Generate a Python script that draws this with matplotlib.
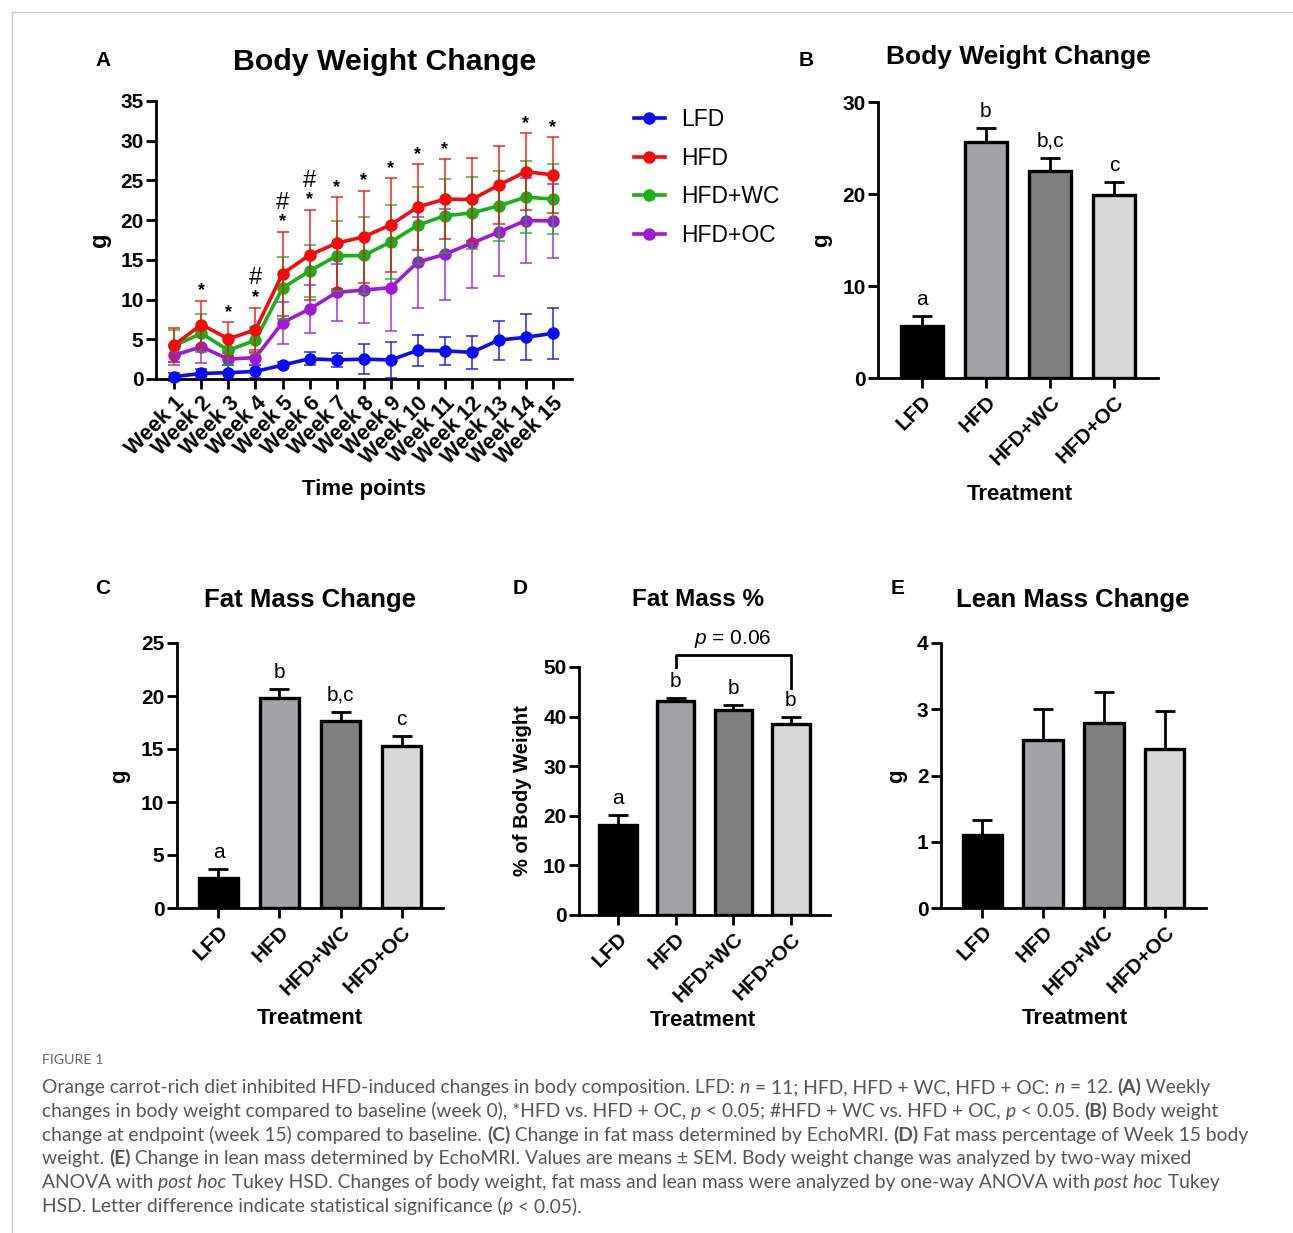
"""Figure 1: body weight / body composition panels (A-E) with caption."""

import matplotlib.pyplot as plt
from matplotlib.lines import Line2D
import numpy as np

W, H = 1293, 1233

# ---- panel A: weekly body weight change (g), mean and error per group
week_labels = ["Week 1", "Week 2", "Week 3", "Week 4", "Week 5", "Week 6", "Week 7", "Week 8",
               "Week 9", "Week 10", "Week 11", "Week 12", "Week 13", "Week 14", "Week 15"]
week_x = np.arange(1, 16)

lfd_mean = [0.3, 0.7, 0.8, 0.95, 1.75, 2.55, 2.4, 2.5, 2.4, 3.6, 3.55, 3.35, 4.9, 5.25, 5.75]
lfd_err = [0.5, 0.5, 0.9, 0.8, 0.4, 0.8, 0.9, 1.85, 2.3, 2.0, 1.8, 2.05, 2.45, 2.9, 3.2]
hfd_mean = [4.3, 6.85, 5.05, 6.2, 13.25, 15.6, 17.1, 17.9, 19.4, 21.65, 22.65, 22.6, 24.4, 26.1, 25.7]
hfd_err = [2.1, 3.0, 2.1, 2.8, 5.3, 5.7, 5.8, 5.8, 5.9, 5.4, 5.0, 5.2, 4.9, 4.85, 4.75]
wc_mean = [4.2, 5.75, 3.6, 4.9, 11.45, 13.6, 15.5, 15.55, 17.25, 19.35, 20.55, 20.9, 21.8, 22.9, 22.65]
wc_err = [2.0, 2.4, 1.8, 1.6, 3.85, 3.3, 4.4, 4.8, 4.7, 4.85, 4.65, 4.5, 4.45, 4.5, 4.4]
oc_mean = [3.0, 4.05, 2.5, 2.7, 7.1, 8.8, 10.9, 11.2, 11.5, 14.7, 15.7, 17.1, 18.5, 19.95, 19.9]
oc_err = [1.3, 2.0, 0.8, 1.0, 2.65, 3.0, 3.6, 4.2, 5.5, 5.75, 5.75, 5.7, 5.5, 5.35, 4.7]

star_weeks = [2, 3, 4, 5, 6, 7, 8, 9, 10, 11, 14, 15]
hash_weeks = [4, 5, 6]

# ---- panels B-E: endpoint bars
groups = ["LFD", "HFD", "HFD+WC", "HFD+OC"]
group_colors = ["#000000", "#a2a2a7", "#7f7f7f", "#d8d8d8"]
line_colors = {"LFD": "#0b0bf5", "HFD": "#f50b0b", "HFD+WC": "#17b017", "HFD+OC": "#a019d8"}

bw_mean = [5.7, 25.7, 22.5, 19.9]
bw_err = [1.05, 1.5, 1.45, 1.4]
bw_letters = ["a", "b", "b,c", "c"]

fat_mean = [2.85, 19.8, 17.6, 15.3]
fat_err = [0.8, 0.85, 0.9, 0.95]
fat_letters = ["a", "b", "b,c", "c"]

fatpct_mean = [18.2, 43.1, 41.3, 38.6]
fatpct_err = [1.9, 0.7, 1.1, 1.3]
fatpct_letters = ["a", "b", "b", "b"]

lean_mean = [1.1, 2.54, 2.8, 2.4]
lean_err = [0.23, 0.47, 0.46, 0.58]


def setup_style():
    plt.rcParams.update({
        "font.family": ["Liberation Sans", "DejaVu Sans"],
        "mathtext.fontset": "custom",
        "mathtext.rm": "Liberation Sans",
        "mathtext.it": "Liberation Sans:italic",
        "mathtext.bf": "Liberation Sans:bold",
        "axes.linewidth": 2.0,
        "xtick.major.width": 2.0,
        "ytick.major.width": 2.0,
        "xtick.major.size": 7,
        "ytick.major.size": 7,
        "xtick.major.pad": 3,
        "ytick.major.pad": 2,
    })


def box(left, top, right, bottom):
    return [left / W, 1 - bottom / H, (right - left) / W, (bottom - top) / H]


def put(fig, x, y, s, **kw):
    return fig.text(x / W, 1 - y / H, s, **kw)


def bare(ax):
    ax.spines["top"].set_visible(False)
    ax.spines["right"].set_visible(False)


def plot_weekly(fig):
    ax = fig.add_axes(box(156, 101, 572, 379))
    bare(ax)
    series = [("LFD", lfd_mean, lfd_err), ("HFD+OC", oc_mean, oc_err),
              ("HFD+WC", wc_mean, wc_err), ("HFD", hfd_mean, hfd_err)]
    handles = {}
    for i, (name, m, e) in enumerate(series):
        c = line_colors[name]
        ax.errorbar(week_x, m, yerr=e, fmt="none", ecolor=c, elinewidth=1.4, capsize=4.5,
                    capthick=1.4, alpha=0.7, zorder=2 + 2 * i, clip_on=False)
        (ln,) = ax.plot(week_x, m, color=c, lw=2.6, marker="o", ms=9, mew=0, label=name,
                        zorder=3 + 2 * i, clip_on=False)
        handles[name] = ln

    for w in star_weeks:
        i = w - 1
        ax.annotate("*", (w, hfd_mean[i] + hfd_err[i]), xytext=(0, 1), textcoords="offset points",
                    ha="center", va="bottom", fontsize=13, fontweight="bold", annotation_clip=False)
    for w in hash_weeks:
        i = w - 1
        ax.annotate("#", (w, hfd_mean[i] + hfd_err[i]), xytext=(0, 13), textcoords="offset points",
                    ha="center", va="bottom", fontsize=17, annotation_clip=False)

    ax.set_xlim(0.32, 15.71)
    ax.set_ylim(0, 35)
    ax.set_yticks(range(0, 36, 5), [str(v) for v in range(0, 36, 5)], fontweight="bold", fontsize=15)
    ax.set_xticks(week_x, week_labels, rotation=45, ha="right", va="top",
                  rotation_mode="anchor", fontweight="bold", fontsize=15.5)

    put(fig, 103, 60, "A", fontsize=15, fontweight="bold", ha="center", va="center")
    put(fig, 385, 62, "Body Weight Change", fontsize=21.8, fontweight="bold", ha="center", va="center")
    put(fig, 100, 240, "g", fontsize=17, fontweight="bold", rotation=90, ha="center", va="center")
    put(fig, 364, 490, "Time points", fontsize=16, fontweight="bold", ha="center", va="center")

    names = ["LFD", "HFD", "HFD+WC", "HFD+OC"]
    fig.legend([handles[n] for n in names], names, loc="upper left",
               bbox_to_anchor=(634 / W, 1 - 108 / H), frameon=False, fontsize=16.5,
               handlelength=1.35, handletextpad=0.7, labelspacing=0.68, borderaxespad=0,
               borderpad=0)


def plot_bars(fig, rect, means, errs, ymax, ystep, letters=None):
    ax = fig.add_axes(box(*rect))
    bare(ax)
    x = np.arange(len(groups))
    ax.bar(x, means, width=0.65, color=group_colors, edgecolor="black", linewidth=2.4, zorder=2)
    ax.errorbar(x, means, yerr=[np.zeros(len(x)), errs], fmt="none", ecolor="black",
                elinewidth=2.0, capsize=7, capthick=2.0, zorder=3)
    if letters:
        for xi, m, e, lab in zip(x, means, errs, letters):
            ax.annotate(lab, (xi, m + e), xytext=(0, 5), textcoords="offset points",
                        ha="center", va="bottom", fontsize=15, annotation_clip=False)
    ax.set_xlim(-0.68, 3.68)
    ax.set_ylim(0, ymax)
    ticks = np.arange(0, ymax + ystep / 2, ystep)
    ax.set_yticks(ticks, [f"{t:g}" for t in ticks], fontweight="bold", fontsize=15)
    ax.set_xticks(x, groups, rotation=45, ha="right", va="top", rotation_mode="anchor",
                  fontweight="bold", fontsize=15)
    return ax


def plot_panels(fig):
    plot_bars(fig, (878, 102, 1158, 378), bw_mean, bw_err, 30, 10, bw_letters)
    put(fig, 806, 60, "B", fontsize=15, fontweight="bold", ha="center", va="center")
    put(fig, 1018, 57, "Body Weight Change", fontsize=19, fontweight="bold", ha="center", va="center")
    put(fig, 822, 240, "g", fontsize=16, fontweight="bold", rotation=90, ha="center", va="center")
    put(fig, 1020, 494, "Treatment", fontsize=16, fontweight="bold", ha="center", va="center")

    plot_bars(fig, (177, 643, 443, 908), fat_mean, fat_err, 25, 5, fat_letters)
    put(fig, 103, 588, "C", fontsize=15, fontweight="bold", ha="center", va="center")
    put(fig, 310, 600, "Fat Mass Change", fontsize=18.5, fontweight="bold", ha="center", va="center")
    put(fig, 120, 776, "g", fontsize=16, fontweight="bold", rotation=90, ha="center", va="center")
    put(fig, 310, 1019, "Treatment", fontsize=16, fontweight="bold", ha="center", va="center")

    ax = plot_bars(fig, (579, 667, 830, 915), fatpct_mean, fatpct_err, 50, 10, fatpct_letters)
    ax.plot([1, 1, 3, 3], [50.1, 52.5, 52.5, 45.7], color="black", lw=2.0, clip_on=False)
    ax.text(2, 53.4, "$p$ = 0.06", ha="center", va="bottom", fontsize=15)
    put(fig, 520, 588, "D", fontsize=15, fontweight="bold", ha="center", va="center")
    put(fig, 698, 599, "Fat Mass %", fontsize=17.5, fontweight="bold", ha="center", va="center")
    put(fig, 523, 791, "% of Body Weight", fontsize=14.5, fontweight="bold", rotation=90,
        ha="center", va="center")
    put(fig, 703, 1021, "Treatment", fontsize=16, fontweight="bold", ha="center", va="center")

    plot_bars(fig, (941, 643, 1206, 908), lean_mean, lean_err, 4, 1)
    put(fig, 898, 588, "E", fontsize=15, fontweight="bold", ha="center", va="center")
    put(fig, 1073, 600, "Lean Mass Change", fontsize=18.5, fontweight="bold", ha="center", va="center")
    put(fig, 897, 776, "g", fontsize=16, fontweight="bold", rotation=90, ha="center", va="center")
    put(fig, 1075, 1019, "Treatment", fontsize=16, fontweight="bold", ha="center", va="center")


def seg_width(fig, s, kw):
    r = fig.canvas.get_renderer()
    t = fig.text(0, 0, "|" + s + "|", **kw)
    w1 = t.get_window_extent(r).width
    t.set_text("||")
    w2 = t.get_window_extent(r).width
    t.remove()
    return w1 - w2


def caption(fig):
    base = dict(fontsize=13.9, color="#555555", family=["Lato", "DejaVu Sans"])
    put(fig, 42, 1060, "FIGURE 1", fontsize=10.3, color="#666666", family=["Lato", "DejaVu Sans"],
        va="center")
    lines = [
        [("Orange carrot-rich diet inhibited HFD-induced changes in body composition. LFD: ", ""),
         ("n", "i"), (" = 11; HFD, HFD + WC, HFD + OC: ", ""), ("n", "i"), (" = 12. ", ""),
         ("(A)", "b"), (" Weekly", "")],
        [("changes in body weight compared to baseline (week 0), *HFD vs. HFD + OC, ", ""),
         ("p", "i"), (" < 0.05; #HFD + WC vs. HFD + OC, ", ""), ("p", "i"), (" < 0.05. ", ""),
         ("(B)", "b"), (" Body weight", "")],
        [("change at endpoint (week 15) compared to baseline. ", ""), ("(C)", "b"),
         (" Change in fat mass determined by EchoMRI. ", ""), ("(D)", "b"),
         (" Fat mass percentage of Week 15 body", "")],
        [("weight. ", ""), ("(E)", "b"),
         (" Change in lean mass determined by EchoMRI. Values are means ± SEM. "
          "Body weight change was analyzed by two-way mixed", "")],
        [("ANOVA with ", ""), ("post hoc", "i"),
         (" Tukey HSD. Changes of body weight, fat mass and lean mass were analyzed by "
          "one-way ANOVA with ", ""), ("post hoc", "i"), (" Tukey", "")],
        [("HSD. Letter difference indicate statistical significance (", ""), ("p", "i"),
         (" < 0.05).", "")],
    ]
    y0, dy = 1093, 23.8
    for k, parts in enumerate(lines):
        x = 42.0
        y = y0 + k * dy
        for text, style in parts:
            kw = dict(base)
            if style == "i":
                kw["fontstyle"] = "italic"
            elif style == "b":
                kw["fontweight"] = "bold"
            put(fig, x, y, text, va="baseline", ha="left", **kw)
            x += seg_width(fig, text, kw)


def frame(fig):
    fig.add_artist(Line2D([12 / W, 1], [1 - 12 / H, 1 - 12 / H], transform=fig.transFigure,
                          color="#c8c8c8", lw=1))
    fig.add_artist(Line2D([12 / W, 12 / W], [0, 1 - 12 / H], transform=fig.transFigure,
                          color="#c8c8c8", lw=1))


def main():
    setup_style()
    fig = plt.figure(figsize=(W / 100, H / 100), dpi=100)
    frame(fig)
    plot_weekly(fig)
    plot_panels(fig)
    caption(fig)
    fig.savefig("out.png", dpi=100)
    plt.close(fig)


if __name__ == "__main__":
    main()
